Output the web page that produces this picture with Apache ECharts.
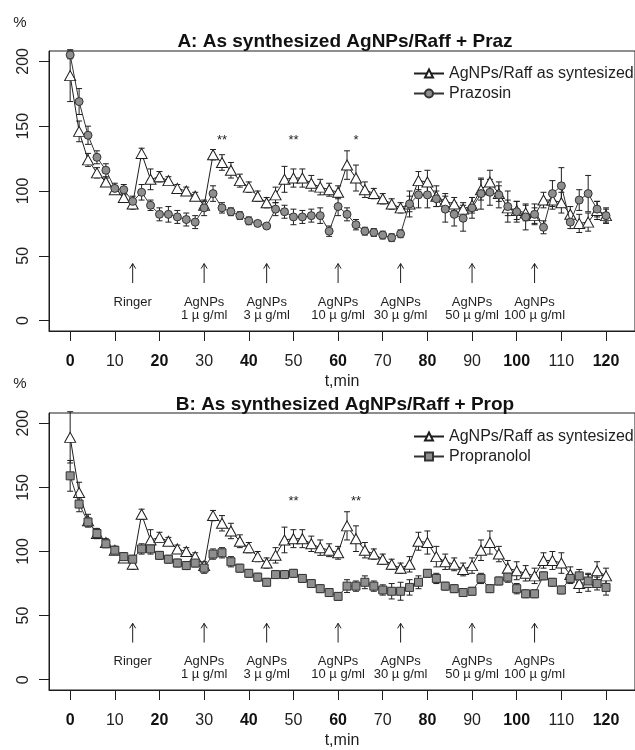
<!DOCTYPE html>
<html>
<head>
<meta charset="utf-8">
<script src="https://cdn.jsdelivr.net/npm/echarts@6/dist/echarts.min.js"></script>
<style>
  html, body { margin: 0; padding: 0; background: #fff; }
  #chart { width: 635px; height: 750px; }
</style>
</head>
<body>
<div id="chart"></div>
<script>
// time points, min
const minutes = [0, 2, 4, 6, 8, 10, 12, 14, 16, 18, 20, 22, 24, 26, 28, 30, 32, 34, 36, 38,
  40, 42, 44, 46, 48, 50, 52, 54, 56, 58, 60, 62, 64, 66, 68, 70, 72, 74, 76, 78,
  80, 82, 84, 86, 88, 90, 92, 94, 96, 98, 100, 102, 104, 106, 108, 110, 112, 114, 116, 118, 120];

// AgNPs/Raff as syntesized (same curve in both panels)
const agnps = [189, 146, 124, 114, 107, 101, 95, 90, 129, 109, 111, 108, 102, 100, 96, 89, 128, 122, 116, 108,
  103, 96, 91, 97, 109, 110, 110, 106, 103, 101, 99, 120, 110, 101, 98, 94, 90, 87, 90, 108,
  107, 96, 92, 90, 86, 89, 101, 107, 98, 87, 85, 83, 81, 93, 93, 91, 82, 75, 76, 85, 81];
const agnpsErr = [20, 8, 5, 4, 3, 3, 3, 4, 4, 8, 4, 3, 3, 3, 3, 3, 4, 6, 6, 5,
  4, 4, 4, 6, 10, 7, 7, 6, 6, 5, 5, 11, 10, 6, 4, 4, 4, 4, 6, 7,
  9, 8, 6, 5, 5, 6, 8, 9, 6, 6, 7, 6, 6, 6, 7, 8, 6, 7, 7, 7, 6];

const prazosin = [205, 169, 143, 126, 116, 102, 101, 92, 99, 89, 82, 82, 80, 78, 76, 87, 98, 87, 84, 81,
  77, 75, 73, 86, 84, 80, 80, 81, 81, 69, 88, 82, 74, 69, 68, 66, 64, 67, 90, 97,
  97, 94, 86, 82, 79, 87, 98, 99, 97, 88, 84, 80, 82, 72, 98, 104, 76, 93, 98, 86, 81];
const prazosinErr = [3, 10, 7, 5, 5, 4, 4, 4, 6, 4, 5, 6, 5, 5, 5, 6, 6, 4, 3, 3,
  3, 2, 2, 5, 5, 6, 5, 5, 6, 4, 7, 5, 4, 3, 3, 3, 3, 3, 10, 10,
  10, 6, 10, 9, 10, 8, 12, 10, 10, 12, 8, 10, 8, 5, 10, 14, 5, 8, 14, 6, 5];

const propranolol = [159, 137, 123, 114, 106, 101, 96, 94, 102, 102, 97, 94, 91, 89, 91, 87, 98, 99, 92, 87,
  83, 80, 76, 82, 82, 83, 79, 75, 71, 68, 65, 73, 73, 76, 73, 70, 69, 69, 72, 76,
  83, 79, 73, 71, 68, 69, 79, 71, 77, 80, 71, 67, 67, 81, 76, 70, 79, 81, 77, 75, 72];
const propranololErr = [12, 6, 3, 3, 3, 3, 3, 3, 4, 4, 3, 3, 3, 3, 3, 4, 4, 4, 4, 3,
  3, 3, 3, 3, 3, 3, 3, 3, 3, 3, 3, 5, 4, 5, 4, 4, 6, 7, 6, 5,
  3, 4, 3, 3, 3, 3, 4, 3, 3, 4, 4, 3, 3, 3, 3, 3, 4, 5, 5, 5, 6];

// additions
const doseTimes = [14, 30, 44, 60, 74, 90, 104];
const doseLine1 = ['Ringer', 'AgNPs', 'AgNPs', 'AgNPs', 'AgNPs', 'AgNPs', 'AgNPs'];
const doseLine2 = ['', '1 \u00b5 g/ml', '3 \u00b5 g/ml', '10 \u00b5 g/ml', '30 \u00b5 g/ml', '50 \u00b5 g/ml', '100 \u00b5 g/ml'];

// significance marks
const starTimesA = [34, 50, 64];
const starTextA = ['**', '**', '*'];
const starTimesB = [50, 64];
const starTextB = ['**', '**'];

const xTicks = [0, 10, 20, 30, 40, 50, 60, 70, 80, 90, 100, 110, 120];
const yTicks = [0, 50, 100, 150, 200];

const FONT = '"Liberation Sans", Arial, Helvetica, sans-serif';
const INK = '#1e1e1e';

const pairs = vals => minutes.map((t, i) => [t, vals[i]]);
const bars = (vals, errs) => minutes.map((t, i) => [t, vals[i] - errs[i], vals[i] + errs[i]]);

function renderErr(params, api) {
  const t = api.value(0);
  const lo = api.coord([t, api.value(1)]);
  const hi = api.coord([t, api.value(2)]);
  const c = 3;
  const st = { stroke: INK, lineWidth: 1 };
  return {
    type: 'group',
    children: [
      { type: 'line', shape: { x1: lo[0], y1: lo[1], x2: hi[0], y2: hi[1] }, style: st },
      { type: 'line', shape: { x1: lo[0] - c, y1: lo[1], x2: lo[0] + c, y2: lo[1] }, style: st },
      { type: 'line', shape: { x1: hi[0] - c, y1: hi[1], x2: hi[0] + c, y2: hi[1] }, style: st }
    ]
  };
}

function renderDose(params, api) {
  const t = api.value(0);
  const i = api.value(1);
  const base = api.coord([t, 29]);
  const tip = api.coord([t, 44]);
  const l1 = api.coord([t, 14]);
  const l2 = api.coord([t, 4]);
  const st = { stroke: INK, lineWidth: 1 };
  const txt = (p, s) => ({
    type: 'text', x: p[0], y: p[1],
    style: { text: s, fill: INK, font: '13px ' + FONT, align: 'center', verticalAlign: 'middle' }
  });
  return {
    type: 'group',
    children: [
      { type: 'line', shape: { x1: base[0], y1: base[1], x2: tip[0], y2: tip[1] }, style: st },
      { type: 'polyline', shape: { points: [[tip[0] - 3, tip[1] + 5], [tip[0], tip[1]], [tip[0] + 3, tip[1] + 5]] }, style: { stroke: INK, lineWidth: 1, fill: null } },
      txt(l1, doseLine1[i]),
      txt(l2, doseLine2[i])
    ]
  };
}

function renderStar(texts) {
  return function (params, api) {
    const p = api.coord([api.value(0), api.value(1)]);
    return {
      type: 'text', x: p[0], y: p[1],
      style: { text: texts[api.value(2)], fill: INK, font: '13px ' + FONT, align: 'center', verticalAlign: 'middle' }
    };
  };
}

function xAxisFor(idx) {
  return {
    type: 'value', gridIndex: idx, min: -4.74, max: 126.49,
    name: 't,min', nameLocation: 'middle', nameGap: 43,
    nameTextStyle: { fontFamily: FONT, fontSize: 16, color: INK },
    axisLine: { show: true, onZero: false, lineStyle: { color: INK, width: 1 } },
    axisTick: { show: true, length: 10, customValues: xTicks, lineStyle: { color: INK } },
    axisLabel: {
      customValues: xTicks, margin: 23, color: INK, fontFamily: FONT, fontSize: 16,
      formatter: v => (v % 20 === 0 ? '{b|' + v + '}' : '{n|' + v + '}'),
      rich: { b: { fontWeight: 'bold', fontSize: 16, fontFamily: FONT, color: '#111' }, n: { fontSize: 16, fontFamily: FONT, color: '#222' } }
    },
    splitLine: { show: false }
  };
}

function yAxisFor(idx) {
  return {
    type: 'value', gridIndex: idx, min: -8, max: 208,
    axisLine: { show: true, onZero: false, lineStyle: { color: INK, width: 1 } },
    axisTick: { show: true, length: 10, customValues: yTicks, lineStyle: { color: INK } },
    axisLabel: { customValues: yTicks, rotate: 90, margin: 17, color: '#222', fontFamily: FONT, fontSize: 16 },
    splitLine: { show: false }
  };
}

const triangleStyle = {
  type: 'line', symbol: 'triangle', symbolSize: [11, 10],
  lineStyle: { color: INK, width: 1 },
  itemStyle: { color: '#fff', borderColor: INK, borderWidth: 1 }
};

const chart = echarts.init(document.getElementById('chart'));
chart.setOption({
  backgroundColor: '#fff',
  animation: false,
  textStyle: { fontFamily: FONT },
  grid: [
    { left: 49, top: 51, width: 600, height: 280, show: true, borderColor: INK, borderWidth: 1 },
    { left: 49, top: 413, width: 600, height: 280, show: true, borderColor: INK, borderWidth: 1 }
  ],
  xAxis: [xAxisFor(0), xAxisFor(1)],
  yAxis: [yAxisFor(0), yAxisFor(1)],
  legend: [
    {
      data: ['AgNPs/Raff as syntesized', 'Prazosin'], orient: 'vertical', left: 408, top: 59,
      itemWidth: 30, itemHeight: 10, itemGap: 1, itemTextGap: 15,
      textStyle: { fontFamily: FONT, fontSize: 16, color: INK, lineHeight: 19 }
    },
    {
      data: ['AgNPs/Raff as syntesized', 'Propranolol'], orient: 'vertical', left: 408, top: 422,
      itemWidth: 30, itemHeight: 10, itemGap: 1, itemTextGap: 15,
      textStyle: { fontFamily: FONT, fontSize: 16, color: INK, lineHeight: 19 }
    }
  ],
  graphic: [
    { type: 'text', x: 345, y: 42, style: { text: 'A: As synthesized AgNPs/Raff + Praz', font: 'bold 19px ' + FONT, fill: '#111', align: 'center', verticalAlign: 'middle' } },
    { type: 'text', x: 345, y: 405, style: { text: 'B: As synthesized AgNPs/Raff + Prop', font: 'bold 19px ' + FONT, fill: '#111', align: 'center', verticalAlign: 'middle' } },
    { type: 'text', x: 20, y: 23, style: { text: '%', font: '15px ' + FONT, fill: INK, align: 'center', verticalAlign: 'middle' } },
    { type: 'text', x: 20, y: 384, style: { text: '%', font: '15px ' + FONT, fill: INK, align: 'center', verticalAlign: 'middle' } }
  ],
  series: [
    // panel A
    { type: 'custom', xAxisIndex: 0, yAxisIndex: 0, renderItem: renderErr, data: bars(agnps, agnpsErr), silent: true, z: 1 },
    { type: 'custom', xAxisIndex: 0, yAxisIndex: 0, renderItem: renderErr, data: bars(prazosin, prazosinErr), silent: true, z: 1 },
    Object.assign({ name: 'AgNPs/Raff as syntesized', xAxisIndex: 0, yAxisIndex: 0, data: pairs(agnps), z: 3 }, triangleStyle),
    {
      name: 'Prazosin', type: 'line', xAxisIndex: 0, yAxisIndex: 0, data: pairs(prazosin), z: 4,
      symbol: 'circle', symbolSize: 8,
      lineStyle: { color: '#333', width: 1 },
      itemStyle: { color: '#8e8e8e', borderColor: '#333', borderWidth: 1 }
    },
    { type: 'custom', xAxisIndex: 0, yAxisIndex: 0, renderItem: renderDose, data: doseTimes.map((t, i) => [t, i]), silent: true },
    { type: 'custom', xAxisIndex: 0, yAxisIndex: 0, renderItem: renderStar(starTextA), data: starTimesA.map((t, i) => [t, 139, i]), silent: true },
    // panel B
    { type: 'custom', xAxisIndex: 1, yAxisIndex: 1, renderItem: renderErr, data: bars(agnps, agnpsErr), silent: true, z: 1 },
    { type: 'custom', xAxisIndex: 1, yAxisIndex: 1, renderItem: renderErr, data: bars(propranolol, propranololErr), silent: true, z: 1 },
    Object.assign({ name: 'AgNPs/Raff as syntesized', xAxisIndex: 1, yAxisIndex: 1, data: pairs(agnps), z: 3 }, triangleStyle),
    {
      name: 'Propranolol', type: 'line', xAxisIndex: 1, yAxisIndex: 1, data: pairs(propranolol), z: 4,
      symbol: 'rect', symbolSize: 8,
      lineStyle: { color: '#333', width: 1 },
      itemStyle: { color: '#8e8e8e', borderColor: '#333', borderWidth: 1 }
    },
    { type: 'custom', xAxisIndex: 1, yAxisIndex: 1, renderItem: renderDose, data: doseTimes.map((t, i) => [t, i]), silent: true },
    { type: 'custom', xAxisIndex: 1, yAxisIndex: 1, renderItem: renderStar(starTextB), data: starTimesB.map((t, i) => [t, 139, i]), silent: true }
  ]
});
</script>
</body>
</html>
